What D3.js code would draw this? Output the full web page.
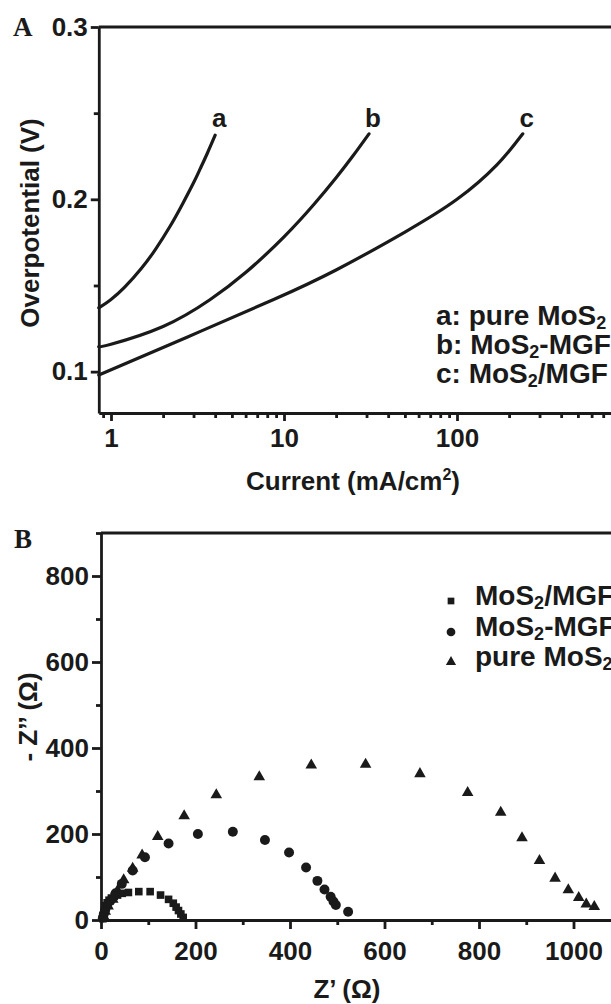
<!DOCTYPE html>
<html><head><meta charset="utf-8">
<script src="https://cdn.jsdelivr.net/npm/d3@7"></script>
<style>
html,body{margin:0;padding:0;background:#fff;overflow:hidden;}
svg{display:block;}
text{font-family:"Liberation Sans",Arial,sans-serif;font-weight:bold;fill:#1a1a1a;}
</style></head><body>
<svg id="c" width="611" height="1004"></svg>
<script>
// ---------- Panel A data (Tafel) ----------
const tafelA_x = [0.85, 1.0, 1.2, 1.5, 1.8, 2.2, 2.61, 3.0, 3.27, 3.6, 4.0];
const tafelA_y = [0.137, 0.1419, 0.149, 0.160, 0.1707, 0.1845, 0.1979, 0.2096, 0.2175, 0.2266, 0.2372];
const tafelB_x = [0.85, 1.0, 2.0, 3.73, 6, 10, 15, 20, 25, 31];
const tafelB_y = [0.1145, 0.1159, 0.1262, 0.1417, 0.1575, 0.1782, 0.1974, 0.2125, 0.2251, 0.238];
const tafelC_x = [0.85, 2.75, 8.65, 20, 50, 100, 170, 240];
const tafelC_y = [0.098, 0.120, 0.1417, 0.159, 0.181, 0.200, 0.220, 0.238];
const curveLetters = ["a", "b", "c"];
const legendA = [["a: pure MoS", "2", ""], ["b: MoS", "2", "-MGF"], ["c: MoS", "2", "/MGF"]];
const yTicksA = [0.1, 0.2, 0.3];
const yMinorA = [0.15, 0.25];
const xTicksA = [1, 10, 100];
const xMinorA = [0.9, 2,3,4,5,6,7,8,9, 20,30,40,50,60,70,80,90, 200,300,400,500,600,700,800,900];

// ---------- Panel B data (Nyquist) ----------
const sqX = [4, 5, 6, 8, 10, 13, 17, 22, 28, 35, 45, 58, 80, 104, 126, 143, 153, 159, 164, 169, 174];
const sqY = [3, 10, 18, 26, 33, 40, 46, 51, 55, 58, 62, 64, 66, 66, 58, 48, 39, 30, 22, 14, 6];
const ciX = [4, 6, 9, 13, 20, 31, 44, 67, 93, 143, 205, 279, 347, 398, 434, 458, 473, 486, 492, 497, 523];
const ciY = [6, 14, 24, 34, 45, 62, 84, 115, 146, 178, 200, 205, 186, 157, 122, 91, 71, 54, 43, 35, 19];
const trX = [5, 9, 15, 25, 35, 48, 67, 87, 120, 176, 244, 335, 445, 560, 675, 776, 846, 891, 928, 961, 989, 1011, 1027, 1044];
const trY = [10, 20, 32, 48, 68, 93, 120, 151, 194, 242, 291, 333, 360, 362, 340, 296, 250, 191, 138, 97, 70, 52, 37, 31];
const legendB = [["MoS", "2", "/MGF"], ["MoS", "2", "-MGF"], ["pure MoS", "2", ""]];
const xTicksB = [0, 200, 400, 600, 800, 1000];
const xMinorB = [100, 300, 500, 700, 900, 1100];
const yTicksB = [0, 200, 400, 600, 800];
const yMinorB = [100, 300, 500, 700, 900];

const svg = d3.select("#c");
const INK = "#1a1a1a";
const FS = 26;
const LFS = 28;

function styleAxis(g, sw) {
  g.selectAll("path.domain").attr("stroke", INK).attr("stroke-width", sw);
  g.selectAll(".tick line").attr("stroke", INK).attr("stroke-width", sw);
  g.selectAll("text").attr("font-size", FS).attr("font-family", "Liberation Sans, Arial, sans-serif")
    .attr("font-weight", "bold").attr("fill", INK);
  g.attr("font-size", null).attr("font-family", null);
}

function subText(g, x, y, t, fs) {
  const tx = g.append("text").attr("x", x).attr("y", y).attr("font-size", fs);
  tx.append("tspan").text(t[0]);
  tx.append("tspan").attr("font-size", Math.round(fs*0.64)).attr("dy", 4).text(t[1]);
  if (t[2]) tx.append("tspan").attr("dy", -4).text(t[2]);
  return tx;
}

// ===== Panel A =====
const xA = d3.scaleLog().domain([0.85, 1500]).range([111 + 173*Math.log10(0.85), 111 + 173*Math.log10(1500)]);
const yA = d3.scaleLinear().domain([0.076, 0.3]).range([413, 27]);
const gA = svg.append("g");

gA.append("line").attr("x1", xA(0.85)).attr("x2", xA(1500)).attr("y1", yA(0.3)).attr("y2", yA(0.3))
  .attr("stroke", INK).attr("stroke-width", 2.8);

const axYA = gA.append("g").attr("transform", `translate(${xA(0.85)},0)`)
  .call(d3.axisLeft(yA).tickValues(yTicksA).tickSize(8).tickSizeOuter(0).tickPadding(3).tickFormat(d3.format(".1f")));
styleAxis(axYA, 2.8);
const axYAm = gA.append("g").attr("transform", `translate(${xA(0.85)},0)`)
  .call(d3.axisLeft(yA).tickValues(yMinorA).tickSize(5).tickSizeOuter(0).tickFormat(""));
styleAxis(axYAm, 2.8); axYAm.select("path.domain").remove();

const axXA = gA.append("g").attr("transform", `translate(0,${yA(0.076)})`)
  .call(d3.axisBottom(xA).tickValues(xTicksA).tickSize(8).tickSizeOuter(0).tickPadding(7.5).tickFormat(d3.format("d")));
styleAxis(axXA, 2.8);
const axXAm = gA.append("g").attr("transform", `translate(0,${yA(0.076)})`)
  .call(d3.axisBottom(xA).tickValues(xMinorA).tickSize(5).tickSizeOuter(0).tickFormat(""));
styleAxis(axXAm, 2.8); axXAm.select("path.domain").remove();

const lineA = d3.line().x(d => xA(d[0])).y(d => yA(d[1])).curve(d3.curveNatural);
const seriesA = [d3.zip(tafelA_x, tafelA_y), d3.zip(tafelB_x, tafelB_y), d3.zip(tafelC_x, tafelC_y)];
gA.selectAll("path.tafel").data(seriesA).join("path").attr("class", "tafel")
  .attr("d", lineA).attr("fill", "none").attr("stroke", INK).attr("stroke-width", 3.2).attr("stroke-linecap", "round");

gA.selectAll("text.cl").data(seriesA).join("text").attr("class", "cl")
  .attr("x", (d) => xA(d[d.length-1][0]) + 4).attr("y", 127)
  .attr("text-anchor", "middle").attr("font-size", FS)
  .text((d, i) => curveLetters[i]);

legendA.forEach((t, i) => subText(gA, 436, 325 + i*29, t, LFS));

gA.append("text").attr("transform", "translate(39,223) rotate(-90)").attr("text-anchor", "middle")
  .attr("font-size", FS).text("Overpotential (V)");
const ctA = gA.append("text").attr("x", 353).attr("y", 490).attr("text-anchor", "middle").attr("font-size", FS);
ctA.append("tspan").text("Current (mA/cm");
ctA.append("tspan").attr("font-size", 16).attr("dy", -10).text("2");
ctA.append("tspan").attr("dy", 10).text(")");

gA.append("text").attr("x", 13).attr("y", 36).attr("font-size", 27)
  .style("font-family", "'Liberation Serif','Times New Roman',serif").text("A");

// ===== Panel B =====
const xB = d3.scaleLinear().domain([0, 1200]).range([101, 101 + 0.4725*1200]);
const yB = d3.scaleLinear().domain([0, 900]).range([920, 920 - 0.43*900]);
const gB = svg.append("g");

gB.append("line").attr("x1", xB(0)).attr("x2", xB(1200)).attr("y1", yB(900)).attr("y2", yB(900))
  .attr("stroke", INK).attr("stroke-width", 2.8);

const axYB = gB.append("g").attr("transform", `translate(${xB(0)},0)`)
  .call(d3.axisLeft(yB).tickValues(yTicksB).tickSize(9).tickSizeOuter(0).tickPadding(3).tickFormat(d3.format("d")));
styleAxis(axYB, 2.8);
const axYBm = gB.append("g").attr("transform", `translate(${xB(0)},0)`)
  .call(d3.axisLeft(yB).tickValues(yMinorB).tickSize(5).tickSizeOuter(0).tickFormat(""));
styleAxis(axYBm, 2.8); axYBm.select("path.domain").remove();

const axXB = gB.append("g").attr("transform", `translate(0,${yB(0)})`)
  .call(d3.axisBottom(xB).tickValues(xTicksB).tickSize(9).tickSizeOuter(0).tickPadding(13).tickFormat(d3.format("d")));
styleAxis(axXB, 2.8);
const axXBm = gB.append("g").attr("transform", `translate(0,${yB(0)})`)
  .call(d3.axisBottom(xB).tickValues(xMinorB).tickSize(5).tickSizeOuter(0).tickFormat(""));
styleAxis(axXBm, 2.8); axXBm.select("path.domain").remove();

const sets = [
  {x: trX, y: trY, sym: d3.symbolTriangle, size: 58},
  {x: ciX, y: ciY, sym: d3.symbolCircle, size: 78},
  {x: sqX, y: sqY, sym: d3.symbolSquare, size: 58}
];
sets.forEach(s => {
  gB.selectAll(null).data(d3.zip(s.x, s.y)).join("path")
    .attr("transform", d => `translate(${xB(d[0])},${yB(d[1])})`)
    .attr("d", d3.symbol().type(s.sym).size(s.size)).attr("fill", INK);
});

const legSyms = [[d3.symbolSquare, 45], [d3.symbolCircle, 60], [d3.symbolTriangle, 45]];
const legY = [605, 636, 666];
legendB.forEach((t, i) => {
  gB.append("path").attr("transform", `translate(451,${legY[i] - 4})`)
    .attr("d", d3.symbol().type(legSyms[i][0]).size(legSyms[i][1])).attr("fill", INK);
  subText(gB, 475, legY[i], t, LFS);
});

gB.append("text").attr("transform", "translate(37,717) rotate(-90)").attr("text-anchor", "middle")
  .attr("font-size", FS).text("- Z\u2019\u2019 (\u03A9)");
gB.append("text").attr("x", 347).attr("y", 998).attr("text-anchor", "middle")
  .attr("font-size", FS).text("Z\u2019 (\u03A9)");

gB.append("text").attr("x", 14).attr("y", 548).attr("font-size", 27)
  .style("font-family", "'Liberation Serif','Times New Roman',serif").text("B");
</script>
</body></html>
